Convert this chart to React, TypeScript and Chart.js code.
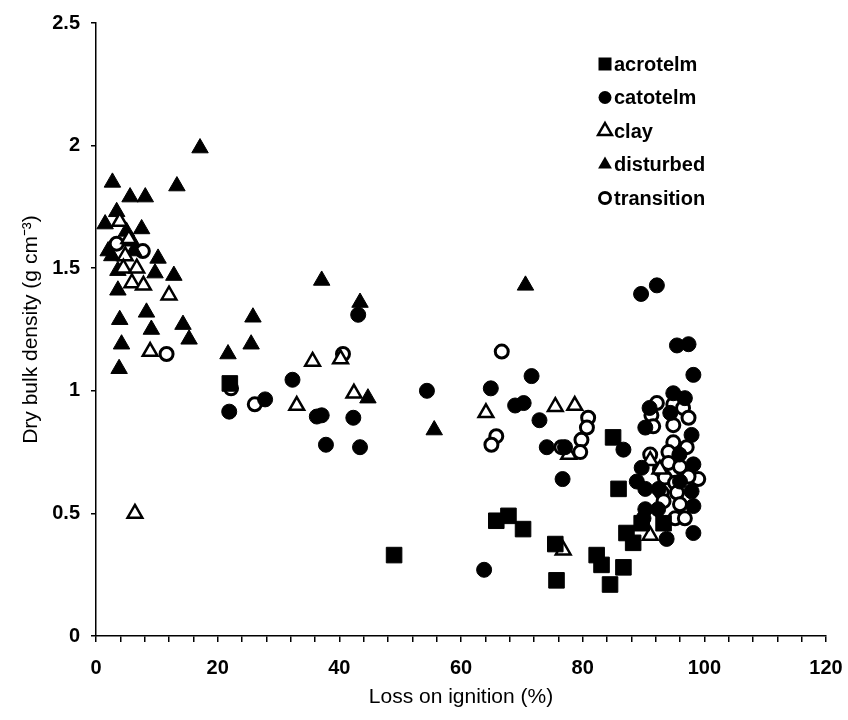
import React, { useEffect, useRef } from 'react';
import { Chart, registerables } from 'chart.js';

Chart.register(...registerables);

const FONT = '"Liberation Sans", Arial, Helvetica, sans-serif';

// Loss on ignition (%) / dry bulk density (g cm-3) per series
const acrotelmX = [22.0, 49.0, 65.8, 67.8, 70.2, 75.5, 75.7, 85.0, 85.9, 87.2, 88.3, 82.3, 83.1, 86.7, 84.5, 89.7, 93.3];
const acrotelmY = [1.03, 0.33, 0.47, 0.49, 0.436, 0.375, 0.227, 0.81, 0.60, 0.42, 0.38, 0.33, 0.29, 0.28, 0.21, 0.46, 0.46];

const catotelmX = [21.9, 27.8, 32.3, 36.3, 37.1, 37.8, 42.3, 43.1, 43.4, 54.4, 63.8, 64.9, 68.9, 70.3, 71.6, 72.9, 74.1, 76.7, 77.1, 86.7, 89.6, 92.2, 95.5, 97.4, 98.2, 94.9, 96.8, 94.4, 90.3, 97.9, 95.9, 89.7, 98.2, 88.9, 90.3, 97.9, 90.3, 92.4, 98.2, 90.0, 93.8, 98.2, 91.0, 96.0, 92.5];
const catotelmY = [0.915, 0.965, 1.045, 0.895, 0.90, 0.78, 0.89, 1.31, 0.77, 1.00, 0.27, 1.01, 0.94, 0.95, 1.06, 0.88, 0.77, 0.64, 0.77, 0.76, 1.395, 1.43, 1.185, 1.19, 1.065, 0.99, 0.97, 0.91, 0.85, 0.82, 0.74, 0.686, 0.70, 0.63, 0.60, 0.59, 0.517, 0.517, 0.53, 0.48, 0.396, 0.42, 0.93, 0.63, 0.60];

const clayX = [3.9, 4.8, 4.5, 6.7, 5.9, 7.8, 12.0, 8.9, 6.4, 33.0, 35.6, 42.4, 64.1, 75.5, 78.7, 77.7, 76.8, 91.1, 92.7, 91.1, 40.2, 5.4];
const clayY = [1.69, 1.55, 1.50, 1.50, 1.44, 1.43, 1.39, 1.16, 0.50, 0.94, 1.12, 0.99, 0.91, 0.935, 0.94, 0.74, 0.35, 0.715, 0.68, 0.41, 1.13, 1.62];

const disturbedX = [17.1, 2.7, 13.3, 5.6, 8.1, 1.5, 5.0, 7.5, 5.9, 2.0, 10.2, 2.6, 3.6, 9.7, 12.8, 3.6, 8.3, 3.9, 14.3, 25.8, 9.1, 15.3, 4.2, 25.5, 21.7, 3.8, 37.1, 43.4, 44.7, 55.6, 70.6, 3.4, 6.2];
const disturbedY = [1.99, 1.85, 1.835, 1.79, 1.79, 1.68, 1.65, 1.66, 1.61, 1.57, 1.54, 1.55, 1.49, 1.48, 1.47, 1.41, 1.32, 1.29, 1.27, 1.30, 1.25, 1.21, 1.19, 1.19, 1.15, 1.09, 1.45, 1.36, 0.97, 0.84, 1.43, 1.73, 1.57];

const transitionX = [3.4, 7.7, 11.6, 22.2, 26.1, 40.6, 66.7, 65.8, 65.0, 76.5, 80.9, 80.7, 79.8, 79.6, 94.9, 92.2, 91.3, 96.5, 97.4, 94.9, 91.6, 94.9, 97.1, 94.1, 91.1, 92.7, 94.1, 96.0, 99.0, 97.4, 93.5, 95.2, 93.0, 95.5, 93.3, 96.0, 95.2, 96.8];
const transitionY = [1.60, 1.57, 1.15, 1.01, 0.945, 1.15, 1.16, 0.815, 0.78, 0.77, 0.89, 0.85, 0.80, 0.75, 0.945, 0.95, 0.90, 0.93, 0.89, 0.86, 0.855, 0.79, 0.77, 0.75, 0.74, 0.68, 0.706, 0.69, 0.64, 0.65, 0.646, 0.625, 0.585, 0.585, 0.55, 0.537, 0.48, 0.48];

const seriesNames = ['acrotelm', 'catotelm', 'clay', 'disturbed', 'transition'];
const xTickLabelStep = 20;
const xMinorStep = 4;
const yTickStep = 0.5;

const toPoints = (xs: number[], ys: number[]) => xs.map((x, i) => ({ x, y: ys[i] }));

type Kind = 'square' | 'dot' | 'openTri' | 'tri' | 'openDot';
const kinds: Kind[] = ['square', 'dot', 'openTri', 'tri', 'openDot'];

function drawLegendMarker(ctx: CanvasRenderingContext2D, kind: Kind, x: number, y: number) {
  ctx.save();
  ctx.strokeStyle = '#000';
  ctx.fillStyle = '#000';
  ctx.beginPath();
  if (kind === 'square') {
    ctx.rect(x - 6.5, y - 6.5, 13, 13);
    ctx.fill();
  } else if (kind === 'dot') {
    ctx.arc(x, y, 6.5, 0, Math.PI * 2);
    ctx.fill();
  } else if (kind === 'tri' || kind === 'openTri') {
    const r = 8;
    ctx.moveTo(x, y - r);
    ctx.lineTo(x + r * 0.866, y + r * 0.5);
    ctx.lineTo(x - r * 0.866, y + r * 0.5);
    ctx.closePath();
    if (kind === 'tri') {
      ctx.fill();
    } else {
      ctx.fillStyle = '#fff';
      ctx.fill();
      ctx.lineWidth = 2.5;
      ctx.stroke();
    }
  } else {
    ctx.arc(x, y, 5.5, 0, Math.PI * 2);
    ctx.fillStyle = '#fff';
    ctx.fill();
    ctx.lineWidth = 3;
    ctx.stroke();
  }
  ctx.restore();
}

export default function App() {
  const ref = useRef<HTMLCanvasElement>(null);

  useEffect(() => {
    document.body.style.margin = '0';
    if (!ref.current) return;

    const legendPlugin = {
      id: 'customLegend',
      afterDraw(chart: any) {
        const ctx: CanvasRenderingContext2D = chart.ctx;
        ctx.save();
        seriesNames.forEach((name, i) => {
          const y = 64 + i * 33.5;
          drawLegendMarker(ctx, kinds[i], 605, y);
          ctx.fillStyle = '#000';
          ctx.font = `bold 20px ${FONT}`;
          ctx.textBaseline = 'middle';
          ctx.textAlign = 'left';
          ctx.fillText(name, 614, y + 1);
        });
        ctx.restore();
      },
    };

    const base = { showLine: false, clip: false as const };
    const chart = new Chart(ref.current, {
      type: 'scatter',
      data: {
        datasets: [
          {
            ...base,
            label: seriesNames[0],
            data: toPoints(acrotelmX, acrotelmY),
            pointStyle: 'rect',
            pointRadius: 11,
            backgroundColor: '#000',
            borderColor: '#000',
            borderWidth: 1,
          },
          {
            ...base,
            label: seriesNames[1],
            data: toPoints(catotelmX, catotelmY),
            pointStyle: 'circle',
            pointRadius: 7.5,
            backgroundColor: '#000',
            borderColor: '#000',
            borderWidth: 1,
          },
          {
            ...base,
            label: seriesNames[2],
            data: toPoints(clayX, clayY),
            pointStyle: 'triangle',
            pointRadius: 8.5,
            backgroundColor: '#fff',
            borderColor: '#000',
            borderWidth: 2.5,
          },
          {
            ...base,
            label: seriesNames[3],
            data: toPoints(disturbedX, disturbedY),
            pointStyle: 'triangle',
            pointRadius: 9.5,
            backgroundColor: '#000',
            borderColor: '#000',
            borderWidth: 1,
          },
          {
            ...base,
            label: seriesNames[4],
            data: toPoints(transitionX, transitionY),
            pointStyle: 'circle',
            pointRadius: 6.5,
            backgroundColor: '#fff',
            borderColor: '#000',
            borderWidth: 3,
          },
        ],
      },
      options: {
        animation: false,
        responsive: true,
        maintainAspectRatio: false,
        events: [],
        layout: { padding: { left: 0, right: 22, top: 19, bottom: 0 } },
        plugins: {
          legend: { display: false },
          tooltip: { enabled: false },
        },
        scales: {
          x: {
            type: 'linear',
            min: 0,
            max: 120,
            border: { display: true, color: '#000', width: 1.5 },
            grid: { drawOnChartArea: false, drawTicks: true, tickLength: 6, color: '#000', lineWidth: 1.5 },
            ticks: {
              stepSize: xMinorStep,
              autoSkip: false,
              maxRotation: 0,
              padding: 14,
              color: '#000',
              font: { family: FONT, size: 20, weight: 'bold' },
              callback: (v: any) => (Number(v) % xTickLabelStep === 0 ? String(v) : ''),
            },
            title: {
              display: true,
              text: 'Loss on ignition (%)',
              color: '#000',
              font: { family: FONT, size: 21 },
              padding: { top: 0, bottom: 10 },
            },
            afterFit: (s: any) => {
              s.height = 84;
              s.paddingLeft = 0;
              s.paddingRight = 0;
            },
          },
          y: {
            type: 'linear',
            min: 0,
            max: 2.5,
            border: { display: true, color: '#000', width: 1.5 },
            grid: { drawOnChartArea: false, drawTicks: true, tickLength: 5, color: '#000', lineWidth: 1.5 },
            ticks: {
              stepSize: yTickStep,
              padding: 11,
              color: '#000',
              font: { family: FONT, size: 20, weight: 'bold' },
              callback: (v: any) => String(Number(v)),
            },
            title: {
              display: true,
              text: 'Dry bulk density (g cm\u207B\u00B3)',
              color: '#000',
              font: { family: FONT, size: 21 },
              padding: { top: 19, bottom: 0 },
            },
            afterFit: (s: any) => {
              s.width = 96;
            },
          },
        },
      },
      plugins: [legendPlugin],
    });

    return () => chart.destroy();
  }, []);

  return (
    <div style={{ position: 'relative', width: 848, height: 720, background: '#fff' }}>
      <canvas ref={ref} />
    </div>
  );
}
